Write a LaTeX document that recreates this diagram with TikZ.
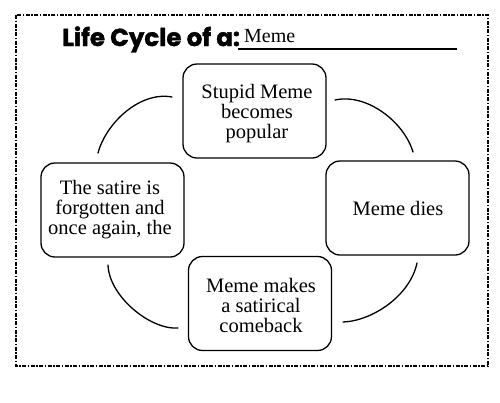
\documentclass[tikz,border=0pt]{standalone}
\usepackage{fontspec}
\setmainfont{Liberation Serif}
\newfontfamily\titlefont{Poppins}[FakeBold=1.6]
\begin{document}
\begin{tikzpicture}[x=1pt,y=-1pt,
  stagebox/.style={draw, line width=1.3pt, rounded corners=14pt, minimum width=143pt, minimum height=94pt, inner sep=0pt},
  stagetext/.style={inner sep=0pt, align=center, font=\fontsize{20.5}{20}\selectfont},
  cyclearc/.style={line width=1.3pt, line cap=round},
  framestyle/.style={line width=1.5pt, dash pattern=on 4pt off 1.5pt on 1.5pt off 1.5pt}]
\useasboundingbox (0,0) rectangle (500,402);
\fill[white] (0,0) rectangle (500,402);
\draw[framestyle] (16,15) rectangle (488,366);
% title
\node[anchor=base west, inner sep=0pt, font=\titlefont\bfseries\fontsize{24.5}{24}\selectfont] (title) at (62,46) {Life Cycle of a:};
\node[anchor=base west, inner sep=0pt, font=\fontsize{20}{20}\selectfont] (subject) at (244,42) {Meme};
\coordinate (ulA) at (238,49);
\coordinate (ulB) at (457,49);
\draw[line width=2.2pt] (ulA) -- (ulB);
% boxes
\node[stagebox] (top) at (254.5,111) {};
\node[stagetext] (toptext) at (257,114) {Stupid Meme\\becomes\\popular};
\node[stagebox] (right) at (397.5,208) {};
\node[stagetext] (righttext) at (398,208) {Meme dies};
\node[stagebox] (left) at (112.5,210) {};
\node[stagetext] (lefttext) at (110,210) {The satire is\\forgotten and\\once again, the};
\node[stagebox] (bottom) at (260,303.5) {};
\node[stagetext] (bottomtext) at (261,305) {Meme makes\\a satirical\\comeback};
% arcs
\coordinate (tlA) at (172,97);
\coordinate (tlB) at (98,153);
\coordinate (trA) at (335,100);
\coordinate (trB) at (413,152);
\coordinate (brA) at (417,263);
\coordinate (brB) at (343,322);
\coordinate (blA) at (108,265);
\coordinate (blB) at (178,328);
\draw[cyclearc] (tlA) .. controls (140,91) and (106,123) .. (tlB);
\draw[cyclearc] (trA) .. controls (367,93) and (404,122) .. (trB);
\draw[cyclearc] (brA) .. controls (410,296) and (372,321) .. (brB);
\draw[cyclearc] (blA) .. controls (109,296) and (150,330) .. (blB);
\end{tikzpicture}
\end{document}
